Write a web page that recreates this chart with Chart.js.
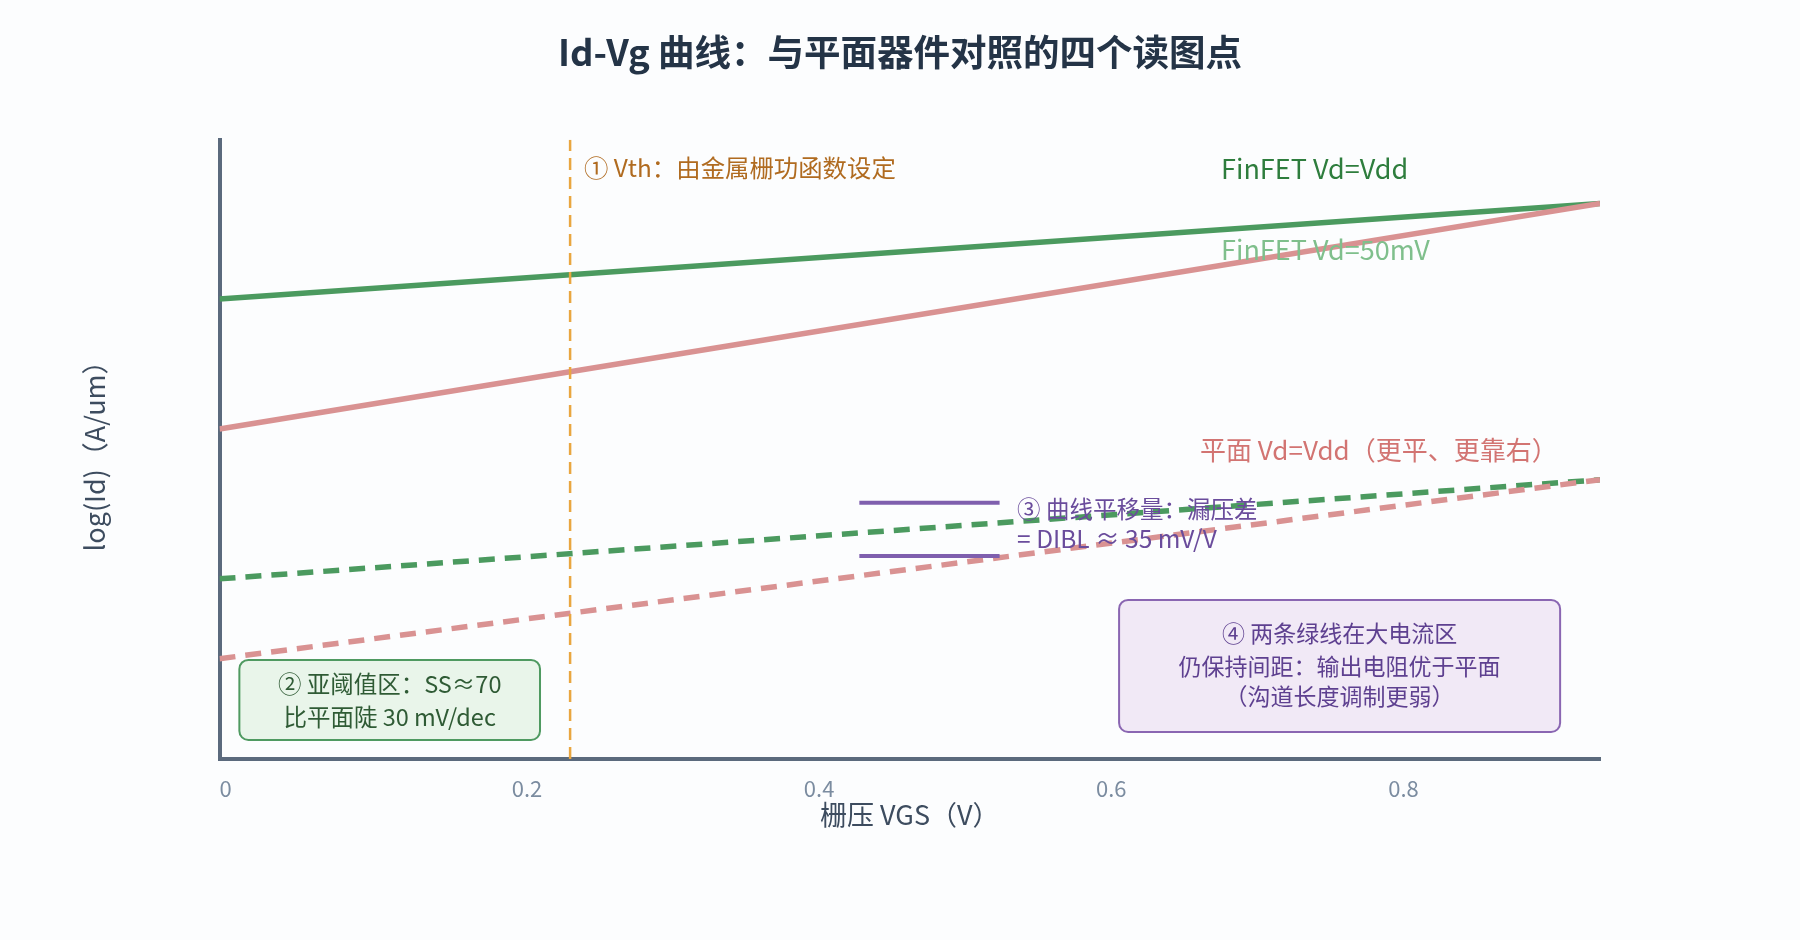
<!DOCTYPE html>
<html>
<head>
<meta charset="utf-8">
<script src="https://cdn.jsdelivr.net/npm/chart.js@4.4.1/dist/chart.umd.min.js"></script>
<style>
  html, body { margin: 0; padding: 0; background: #fcfdfe; }
  #wrap { width: 1800px; height: 940px; }
</style>
</head>
<body>
<div id="wrap"><canvas id="c" width="1800" height="940"></canvas></div>
<script>
// ---- data ----
const vgs        = [0, 0.945];          // gate voltage range of the curves (V)
const finfetVdd  = [7.43, 8.97];        // log(Id), FinFET Vd=Vdd (solid green)
const planarVdd  = [5.33, 8.97];        // log(Id), solid pink
const finfetLow  = [2.91, 4.51];        // log(Id), dashed green
const planarLow  = [1.62, 4.51];        // log(Id), dashed pink
const vth        = 0.24;                // Vth marker (V)
const xTicks     = [0, 0.2, 0.4, 0.6, 0.8];
const diblX      = [0.438, 0.534];      // DIBL shift marker span
const diblY      = [4.14, 3.28];        // DIBL marker levels
const yRange     = [0, 10];

const FONT = '"Noto Sans CJK SC", "Noto Sans", sans-serif';
const GREEN = '#4b9a5f';
const PINK = '#d99292';
const PURPLE = '#7f5fae';

const pts = (xs, ys) => xs.map((x, i) => ({x, y: ys[i]}));

// annotation layout (data coordinates)
const notes = [
  {x: vth + 0.0095, y: 9.55, text: '① Vth：由金属栅功函数设定', color: '#b06b20', size: 24.4, align: 'left'},
  {x: 0.6856, y: 9.53, text: 'FinFET Vd=Vdd', color: '#2e7d3d', size: 27, align: 'left'},
  {x: 0.6856, y: 8.22, text: 'FinFET Vd=50mV', color: '#7fbf8c', size: 27, align: 'left'},
  {x: 0.6712, y: 4.99, text: '平面 Vd=Vdd（更平、更靠右）', color: '#d27472', size: 26, align: 'left'},
  {x: 0.546, y: 4.04, text: '③ 曲线平移量：漏压差', color: '#6a4c9c', size: 23.5, align: 'left'},
  {x: 0.546, y: 3.55, text: '= DIBL ≈ 35 mV/V', color: '#6a4c9c', size: 24.5, align: 'left'}
];
const boxes = [
  {x0: 0.0136, x1: 0.2194, y0: 1.60, y1: 0.307, fill: '#e9f5ea', stroke: '#4f9a61', color: '#2f5b35', size: 23.5,
   lines: [{y: 1.212, t: '② 亚阈值区：SS≈70'}, {y: 0.679, t: '比平面陡 30 mV/dec'}]},
  {x0: 0.6158, x1: 0.9177, y0: 2.569, y1: 0.436, fill: '#f1e9f6', stroke: '#8a66b2', color: '#5e4090', size: 23,
   lines: [{y: 2.036, t: '④ 两条绿线在大电流区'}, {y: 1.502, t: '仍保持间距：输出电阻优于平面'}, {y: 1.018, t: '（沟道长度调制更弱）'}]}
];

const notePlugin = {
  id: 'notes',
  afterDatasetsDraw(chart) {
    const {ctx, scales: {x, y}} = chart;
    ctx.save();
    boxes.forEach(b => {
      const X0 = x.getPixelForValue(b.x0), X1 = x.getPixelForValue(b.x1);
      const Y0 = y.getPixelForValue(b.y0), Y1 = y.getPixelForValue(b.y1);
      ctx.beginPath();
      ctx.roundRect(X0, Y0, X1 - X0, Y1 - Y0, 9);
      ctx.fillStyle = b.fill;
      ctx.fill();
      ctx.lineWidth = 2;
      ctx.strokeStyle = b.stroke;
      ctx.stroke();
      ctx.fillStyle = b.color;
      ctx.font = `${b.size}px ${FONT}`;
      ctx.textAlign = 'center';
      ctx.textBaseline = 'middle';
      const cx = (X0 + X1) / 2;
      b.lines.forEach(l => ctx.fillText(l.t, cx, y.getPixelForValue(l.y)));
    });
    notes.forEach(n => {
      ctx.font = `${n.size}px ${FONT}`;
      ctx.fillStyle = n.color;
      ctx.textAlign = n.align;
      ctx.textBaseline = 'middle';
      ctx.fillText(n.text, x.getPixelForValue(n.x), y.getPixelForValue(n.y));
    });
    ctx.restore();
  }
};

const bg = {
  id: 'bg',
  beforeDraw(chart) {
    const {ctx, width, height} = chart;
    ctx.save();
    ctx.fillStyle = '#fcfdfe';
    ctx.fillRect(0, 0, width, height);
    ctx.restore();
  }
};

new Chart(document.getElementById('c'), {
  type: 'line',
  data: {
    datasets: [
      {label: 'Vth', data: pts([vth, vth], yRange), borderColor: '#e9a640', borderWidth: 2.5, borderDash: [12, 7], order: 0},
      {label: 'DIBL 上', data: pts(diblX, [diblY[0], diblY[0]]), borderColor: PURPLE, borderWidth: 4, order: 1},
      {label: 'DIBL 下', data: pts(diblX, [diblY[1], diblY[1]]), borderColor: PURPLE, borderWidth: 4, order: 1},
      {label: '平面 Vd=Vdd', data: pts(vgs, planarVdd), borderColor: PINK, borderWidth: 5.5, order: 2},
      {label: '平面 Vd=50mV', data: pts(vgs, planarLow), borderColor: PINK, borderWidth: 5.5, borderDash: [16, 10], order: 2},
      {label: 'FinFET Vd=Vdd', data: pts(vgs, finfetVdd), borderColor: GREEN, borderWidth: 5.5, order: 3},
      {label: 'FinFET Vd=50mV', data: pts(vgs, finfetLow), borderColor: GREEN, borderWidth: 5.5, borderDash: [16, 10], order: 3}
    ]
  },
  options: {
    responsive: false,
    animation: false,
    devicePixelRatio: 1,
    elements: {point: {radius: 0}, line: {tension: 0, borderCapStyle: 'butt'}},
    layout: {padding: {left: 0, right: 0, top: 0, bottom: 0}},
    plugins: {
      legend: {display: false},
      tooltip: {enabled: false},
      title: {
        display: true,
        text: 'Id-Vg 曲线：与平面器件对照的四个读图点',
        color: '#243447',
        font: {family: FONT, size: 36.5, weight: 'bold', lineHeight: 1.2},
        padding: {top: 30, bottom: 66}
      }
    },
    scales: {
      x: {
        type: 'linear',
        min: vgs[0], max: vgs[1],
        afterFit: s => { s.height = 181; },
        afterBuildTicks: s => { s.ticks = xTicks.map(v => ({value: v})); },
        grid: {display: false, drawTicks: false},
        border: {display: true, color: '#5b6a7d', width: 4},
        ticks: {
          align: 'start', padding: 16, color: '#7b8ca0',
          font: {family: FONT, size: 22},
          callback: v => String(+v.toFixed(1))
        },
        title: {display: true, text: '栅压 VGS（V）', color: '#3d4c5f',
          font: {family: FONT, size: 27, lineHeight: 1.2}, padding: {top: 0, bottom: 109}}
      },
      y: {
        type: 'linear',
        min: yRange[0], max: yRange[1],
        afterFit: s => { s.width = 219.5; },
        grid: {display: false, drawTicks: false},
        border: {display: true, color: '#5b6a7d', width: 4},
        ticks: {display: false},
        title: {display: true, text: 'log(Id)（A/um）', color: '#3d4c5f',
          font: {family: FONT, size: 27, lineHeight: 1.2}, padding: {top: 79, bottom: 0}}
      },
      yRight: {
        type: 'linear', position: 'right', display: true,
        min: yRange[0], max: yRange[1],
        afterFit: s => { s.width = 200; },
        grid: {display: false, drawTicks: false},
        border: {display: false},
        ticks: {display: false}
      }
    }
  },
  plugins: [bg, notePlugin]
});
</script>
</body>
</html>
